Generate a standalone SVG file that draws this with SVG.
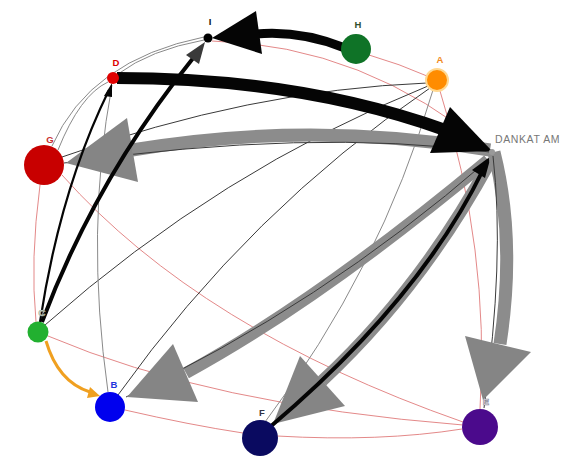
<svg xmlns="http://www.w3.org/2000/svg" width="566" height="458" viewBox="0 0 566 458">
  <style>
    .thin-red { fill: none; stroke: #e07a7a; stroke-width: 0.9; }
    .thin-dark { fill: none; stroke: #3a3a3a; stroke-width: 1; }
    .thin-gray { fill: none; stroke: #8a8a8a; stroke-width: 1; }
    .wide-gray { fill: none; stroke: #8c8c8c; stroke-width: 13; }
    .wide-black { fill: none; stroke: #050505; }
    .head-gray { fill: #858585; }
    .head-black { fill: #050505; }
    .label { font-family: "Liberation Sans", Arial, sans-serif; font-size: 9.5px; font-weight: bold; text-anchor: middle; }
  </style>
  <rect width="566" height="458" fill="#ffffff"/>

  <g id="connectors">
    <!-- light red links -->
    <path class="thin-red" d="M212,41 Q365,45 490,150"/>
    <path class="thin-red" d="M369,55 Q400,64 427,76"/>
    <path class="thin-red" d="M440,91 Q490,250 480,409"/>
    <path class="thin-red" d="M40,185 Q30,260 36,322"/>
    <path class="thin-red" d="M62,175 Q200,330 463,422"/>
    <path class="thin-red" d="M48,336 Q210,405 463,425"/>
    <path class="thin-red" d="M125,410 Q190,425 243,433"/>
    <path class="thin-red" d="M277,436 Q380,442 462,429"/>

    <!-- thin dark links -->
    <path class="thin-dark" d="M62,157 Q250,90 427,83"/>
    <path class="thin-dark" d="M45,325 Q220,170 428,86"/>
    <path class="thin-dark" d="M118,395 Q250,210 430,88"/>
    <path class="thin-gray" d="M433,90 Q380,270 265,422"/>
    <path class="thin-gray" d="M108,392 Q85,230 112,85"/>
    <path class="thin-gray" d="M52,146 Q90,60 204,37"/>
    <path class="thin-gray" d="M58,150 Q80,95 108,82"/>
    <path class="thin-gray" d="M204,40 Q150,50 118,74"/>

    <!-- DANKAT AM -> G -->
    <path class="wide-gray" d="M490,150 Q310,120 132,150"/>
    <path class="thin-dark" d="M490,152 Q310,128 64,163"/>
    <polygon class="head-gray" points="127,118 138,182 66,163"/>

    <!-- DANKAT AM -> B -->
    <path class="wide-gray" d="M488,160 Q320,300 186,373" style="stroke-width:12"/>
    <path class="thin-dark" d="M488,160 Q320,306 126,397"/>
    <polygon class="head-gray" points="173,344 198,402 127,397"/>

    <!-- DANKAT AM -> F -->
    <path class="wide-gray" d="M490,162 Q420,290 322,381" style="stroke-width:12"/>
    <polygon class="head-gray" points="300,356 345,406 273,424"/>

    <!-- F -> DANKAT AM -->
    <path class="wide-black" d="M270,427 Q420,300 484,168" style="stroke-width:4"/>
    <polygon class="head-black" points="491,156 472,170 485,178"/>

    <!-- DANKAT AM -> E -->
    <path class="wide-gray" d="M494,152 Q516,240 500,344"/>
    <path class="thin-dark" d="M493,156 Q505,260 484,408"/>
    <polygon class="head-gray" points="465,336 531,352 483,400"/>

    <!-- D -> DANKAT AM -->
    <path class="wide-black" d="M117,78 Q300,78 445,130" style="stroke-width:12"/>
    <polygon class="head-black" points="450,107 430,153 492,151"/>

    <!-- H -> I -->
    <path class="wide-black" d="M256,34 Q300,30 345,48" style="stroke-width:9"/>
    <polygon class="head-black" points="212,38 256,11 262,54"/>

    <!-- C -> I -->
    <path class="wide-black" d="M42,322 Q95,180 194,57" style="stroke-width:4"/>
    <polygon fill="#3a3a3a" points="205,42 186,55 199,64"/>

    <!-- C -> D -->
    <path class="wide-black" d="M40,322 Q60,190 109,90" style="stroke-width:2.2"/>
    <polygon class="head-black" points="112,83 104,96 112,97"/>

    <!-- C -> B -->
    <path fill="none" stroke="#f0a020" stroke-width="3" d="M46,341 Q58,382 90,392"/>
    <polygon fill="#f0a020" points="100,396 90,387 87,398"/>
  </g>

  <g id="node-I">
    <circle cx="208" cy="38" r="4.5" fill="#000000"/>
    <text class="label" x="210" y="25" fill="#111111">I</text>
  </g>
  <g id="node-H">
    <circle cx="356" cy="49" r="15" fill="#0f7327"/>
    <text class="label" x="358" y="28" fill="#2f4f2f">H</text>
  </g>
  <g id="node-A">
    <circle cx="437" cy="80" r="11" fill="#ff8c00" stroke="#ffd890" stroke-width="2"/>
    <text class="label" x="440" y="63" fill="#f08a20">A</text>
  </g>
  <g id="node-DANKAT-AM">
    <circle cx="492" cy="152" r="3" fill="#999999"/>
    <text x="495" y="143" font-family="Liberation Sans, Arial, sans-serif" font-size="10.5" letter-spacing="0.6" fill="#777777">DANKAT AM</text>
  </g>
  <g id="node-D">
    <circle cx="113" cy="78" r="6" fill="#e00000"/>
    <text class="label" x="116" y="66" fill="#dd0000">D</text>
  </g>
  <g id="node-G">
    <circle cx="44" cy="165" r="20" fill="#c80000"/>
    <text class="label" x="50" y="143" fill="#c83030">G</text>
  </g>
  <g id="node-C">
    <circle cx="38" cy="332" r="10.5" fill="#22b030"/>
    <text class="label" x="42" y="316" fill="#ffffff" stroke="#8a9a8a" stroke-width="0.7">C</text>
  </g>
  <g id="node-B">
    <circle cx="110" cy="407" r="15" fill="#0000ee"/>
    <text class="label" x="114" y="388" fill="#2233dd">B</text>
  </g>
  <g id="node-F">
    <circle cx="260" cy="438" r="18" fill="#0a0a60"/>
    <text class="label" x="262" y="416" fill="#333344">F</text>
  </g>
  <g id="node-E">
    <circle cx="480" cy="427" r="18" fill="#4b0a8c"/>
    <text class="label" x="486" y="405" fill="#ffffff" stroke="#8a8a9a" stroke-width="0.7">E</text>
  </g>
</svg>
